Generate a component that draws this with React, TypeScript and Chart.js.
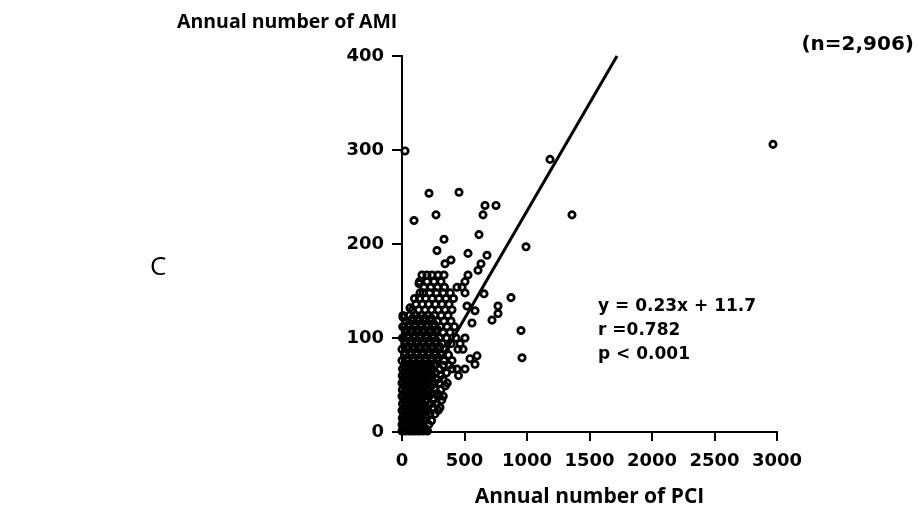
import React, { useEffect, useRef } from "react";
import { Chart, registerables } from "chart.js";

Chart.register(...registerables);

// ---- Data ----
const yAxisTitle = "Annual number of AMI";
const xAxisTitle = "Annual number of PCI";
const sampleLabel = "(n=2,906)";
const panelLabel = "C";
const statsLines = ["y = 0.23x + 11.7", "r =0.782", "p < 0.001"];

const xTickValues = [0, 500, 1000, 1500, 2000, 2500, 3000];
const yTickValues = [0, 100, 200, 300, 400];

// regression line end points (PCI, AMI)
const fitPci = [0, 1720];
const fitAmi = [6, 400];

// dense core: rows of AMI with the PCI values of the hospitals on each row
const coreRowAmi = [1, 4, 8, 12, 15, 19, 23, 26, 30, 34, 38, 41, 45, 49, 52, 56, 60, 63, 67, 71];
const coreRowPci = [
  [0, 26, 58, 83, 110, 138, 170, 204],
  [8, 36, 64, 92, 124, 152, 186],
  [0, 22, 50, 78, 106, 134, 160, 214],
  [10, 40, 66, 96, 120, 148, 178, 236],
  [2, 30, 56, 82, 114, 142, 196],
  [12, 44, 70, 100, 128, 156, 224, 262],
  [0, 24, 52, 80, 108, 136, 170, 208, 290],
  [14, 38, 66, 94, 122, 152, 186, 246, 304],
  [4, 30, 58, 84, 112, 140, 168, 228, 272],
  [16, 42, 70, 98, 126, 156, 198, 250, 318],
  [0, 26, 54, 82, 110, 138, 176, 214, 296, 330],
  [12, 38, 64, 92, 120, 150, 190, 240, 282],
  [2, 30, 56, 84, 112, 140, 170, 212, 264, 310],
  [14, 40, 68, 96, 124, 154, 188, 232, 346],
  [0, 28, 54, 82, 110, 138, 168, 204, 258, 298, 362],
  [10, 36, 64, 92, 120, 148, 180, 224, 280, 330],
  [2, 26, 52, 80, 108, 136, 164, 196, 244, 312, 452],
  [16, 42, 70, 98, 126, 154, 186, 218, 268, 356],
  [4, 30, 58, 86, 114, 142, 172, 206, 240, 298, 400, 440, 504],
  [18, 46, 74, 102, 130, 160, 192, 228, 264, 330, 376],
];

// diagonal band above the core
const bandRowAmi = [76, 79, 82, 85, 88, 91, 94, 97, 100, 103, 106, 109, 112, 115, 118, 121, 124, 130, 136, 142, 148, 154, 160, 167];
const bandRowPci = [
  [0, 44, 92, 140, 188, 236, 284, 336, 400],
  [44, 92, 140, 188, 236, 290],
  [20, 68, 116, 164, 212, 262, 316, 372],
  [24, 70, 118, 166, 214, 266],
  [0, 46, 94, 142, 190, 240, 292, 348, 448, 488],
  [46, 94, 142, 190, 242, 300],
  [22, 70, 118, 166, 216, 268, 322, 392, 464],
  [26, 74, 122, 170, 220, 274],
  [4, 50, 98, 146, 196, 248, 300, 356, 432, 504],
  [50, 98, 146, 196, 250],
  [26, 74, 122, 172, 222, 274, 328, 384],
  [30, 78, 126, 176, 228, 284],
  [6, 54, 102, 150, 200, 252, 306, 360, 420],
  [56, 104, 152, 202, 256],
  [30, 80, 128, 178, 228, 282, 336, 392],
  [84, 132, 182, 234],
  [8, 60, 108, 158, 208, 260, 314, 368],
  [84, 134, 184, 236, 290, 344, 400],
  [112, 162, 214, 266, 320, 376],
  [100, 140, 190, 242, 296, 352, 412],
  [144, 170, 222, 276, 330, 386, 504],
  [176, 230, 284, 340, 440, 480],
  [140, 200, 256, 312, 504],
  [160, 200, 240, 288, 336, 528],
];

// isolated hospitals
const outlierPci = [24, 96, 216, 272, 336, 456, 616, 648, 664, 752, 1184, 1360, 2968, 992, 872, 768, 768, 720, 952, 960, 656, 584, 560, 520, 544, 600, 584, 280, 528, 680, 632, 608, 392, 344, 136, 64, 8];
const outlierAmi = [299, 225, 254, 231, 205, 255, 210, 231, 241, 241, 290, 231, 306, 197, 143, 134, 126, 119, 108, 79, 147, 129, 116, 134, 78, 81, 72, 193, 190, 188, 179, 172, 183, 179, 158, 132, 122];

const TITLE_FONT = '"Open Sans", "DejaVu Sans", sans-serif';
const NUM_FONT = '"DejaVu Sans", sans-serif';

function buildPoints() {
  const pts: { x: number; y: number }[] = [];
  coreRowAmi.forEach((a, i) => coreRowPci[i].forEach((p) => pts.push({ x: p, y: a })));
  bandRowAmi.forEach((a, i) => bandRowPci[i].forEach((p) => pts.push({ x: p, y: a })));
  outlierPci.forEach((p, i) => pts.push({ x: p, y: outlierAmi[i] }));
  return pts;
}

const textPlugin = {
  id: "extraTexts",
  afterDraw(chart: any) {
    const ctx = chart.ctx;
    ctx.save();
    ctx.fillStyle = "#000";
    ctx.textBaseline = "middle";
    ctx.textAlign = "left";
    ctx.font = `bold 19.5px ${TITLE_FONT}`;
    ctx.fillText(yAxisTitle, 177, 22);
    ctx.textAlign = "right";
    ctx.font = `bold 20px ${NUM_FONT}`;
    ctx.fillText(sampleLabel, 914, 45);
    ctx.textAlign = "left";
    ctx.font = `normal 26px ${TITLE_FONT}`;
    ctx.fillText(panelLabel, 150, 268);
    ctx.font = `bold 17px ${NUM_FONT}`;
    statsLines.forEach((t, i) => ctx.fillText(t, 598, 307 + i * 24));
    ctx.restore();
  },
};

export default function App() {
  const ref = useRef<HTMLCanvasElement | null>(null);
  useEffect(() => {
    if (!ref.current) return;
    const chart = new Chart(ref.current, {
      type: "scatter",
      data: {
        datasets: [
          {
            type: "line",
            data: fitPci.map((p, i) => ({ x: p, y: fitAmi[i] })),
            borderColor: "#000",
            borderWidth: 3,
            pointRadius: 0,
            clip: false,
          } as any,
          {
            type: "scatter",
            data: buildPoints(),
            borderColor: "#000",
            backgroundColor: "rgba(0,0,0,0)",
            pointRadius: 3.2,
            borderWidth: 2.7,
            clip: false,
          } as any,
        ],
      },
      options: {
        responsive: false,
        animation: false,
        devicePixelRatio: 1,
        layout: { padding: { left: 342, right: 141, top: 56, bottom: 0 } },
        plugins: { legend: { display: false }, tooltip: { enabled: false }, title: { display: false } },
        scales: {
          x: {
            type: "linear",
            min: 0,
            max: 3000,
            afterBuildTicks: (s: any) => {
              s.ticks = xTickValues.map((v) => ({ value: v }));
            },
            afterFit: (s: any) => {
              s.height = 83;
            },
            ticks: {
              color: "#000",
              padding: 10,
              maxRotation: 0,
              autoSkip: false,
              font: { family: NUM_FONT, weight: "bold", size: 18 },
              callback: (v: any) => String(v),
            },
            grid: { drawOnChartArea: false, drawTicks: true, tickLength: 9, color: "#000", lineWidth: 2 },
            border: { display: true, color: "#000", width: 2 },
            title: {
              display: true,
              text: xAxisTitle,
              color: "#000",
              font: { family: TITLE_FONT, weight: "bold", size: 21 },
              padding: { top: 4, bottom: 5 },
            },
          },
          y: {
            type: "linear",
            min: 0,
            max: 400,
            afterBuildTicks: (s: any) => {
              s.ticks = yTickValues.map((v) => ({ value: v }));
            },
            afterFit: (s: any) => {
              s.width = 60;
            },
            ticks: {
              color: "#000",
              padding: 8,
              font: { family: NUM_FONT, weight: "bold", size: 18 },
              callback: (v: any) => String(v),
            },
            grid: { drawOnChartArea: false, drawTicks: true, tickLength: 10, color: "#000", lineWidth: 2 },
            border: { display: true, color: "#000", width: 2 },
          },
        },
      },
      plugins: [textPlugin],
    });
    return () => chart.destroy();
  }, []);
  return (
    <div style={{ position: "absolute", left: 0, top: 0, width: 918, height: 515, background: "#fff" }}>
      <canvas ref={ref} width={918} height={515} style={{ display: "block" }} />
    </div>
  );
}
